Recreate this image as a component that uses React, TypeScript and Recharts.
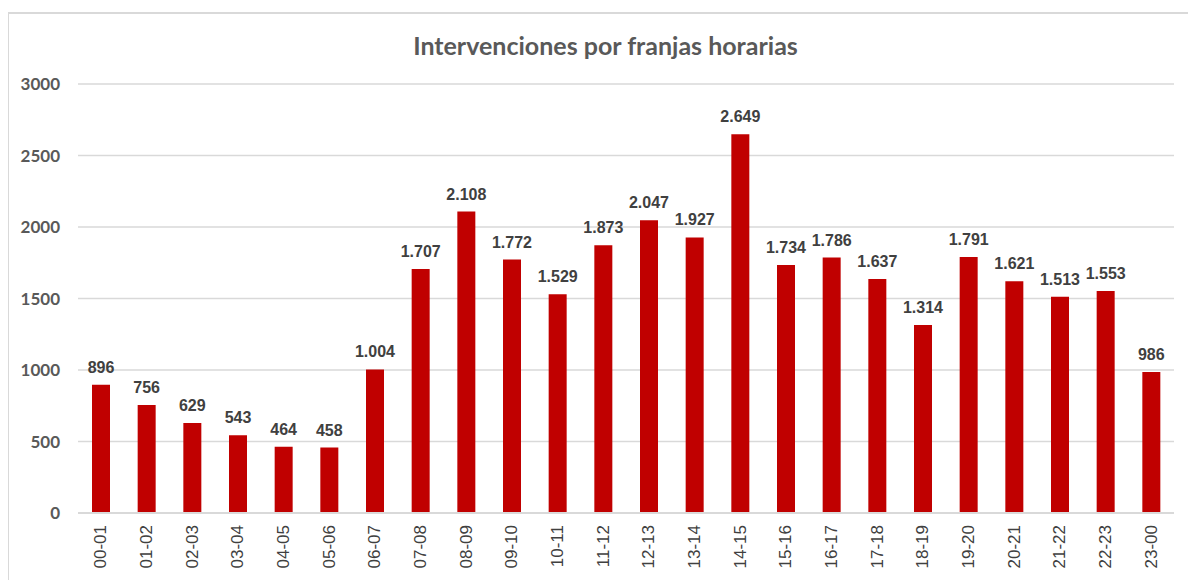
import { BarChart, Bar, XAxis, YAxis, CartesianGrid, LabelList } from "recharts";

const franjas = [
  "00-01", "01-02", "02-03", "03-04", "04-05", "05-06", "06-07", "07-08",
  "08-09", "09-10", "10-11", "11-12", "12-13", "13-14", "14-15", "15-16",
  "16-17", "17-18", "18-19", "19-20", "20-21", "21-22", "22-23", "23-00",
];

const intervenciones = [
  896, 756, 629, 543, 464, 458, 1004, 1707, 2108, 1772, 1529, 1873,
  2047, 1927, 2649, 1734, 1786, 1637, 1314, 1791, 1621, 1513, 1553, 986,
];

const yTicks = [0, 500, 1000, 1500, 2000, 2500, 3000];

const data = franjas.map((franja, i) => ({ franja, valor: intervenciones[i] }));

// separador de miles con punto (1.004, 2.649...)
const fmt = (v: number) => String(v).replace(/\B(?=(\d{3})+(?!\d))/g, ".");

function XTick(props: any) {
  const { x, y, payload } = props;
  return (
    <text
      transform={`translate(${x},${y + 4}) rotate(-90)`}
      textAnchor="end"
      dominantBaseline="central"
      fill="#404040"
      fontSize={17}
      fontFamily="'Liberation Sans', Arial, sans-serif"
    >
      {payload.value}
    </text>
  );
}

export default function App() {
  return (
    <div
      style={{
        position: "relative",
        marginLeft: -1,
        marginTop: 4,
        width: 1185,
        height: 572,
        border: "2px solid #d9d9d9",
        background: "#fff",
      }}
    >
      <div
        style={{
          position: "absolute",
          top: 16,
          left: 4,
          width: "100%",
          textAlign: "center",
          fontFamily: "Lato, 'Open Sans', sans-serif",
          fontWeight: 700,
          fontSize: 25,
          color: "#595959",
        }}
      >
        Intervenciones por franjas horarias
      </div>
      <BarChart
        width={1185}
        height={570}
        data={data}
        margin={{ top: 70, right: 20, bottom: 5, left: 9 }}
      >
        <CartesianGrid vertical={false} stroke="#d9d9d9" strokeWidth={1.5} />
        <XAxis
          dataKey="franja"
          interval={0}
          height={66}
          tick={<XTick />}
          tickLine={false}
          axisLine={{ stroke: "#d9d9d9", strokeWidth: 2 }}
        />
        <YAxis
          width={60}
          domain={[0, 3000]}
          ticks={yTicks}
          tickLine={false}
          axisLine={false}
          tickSize={0}
          tickMargin={18}
          tick={{
            fill: "#595959",
            fontSize: 17,
            fontWeight: 700,
            fontFamily: "Lato, 'Open Sans', sans-serif",
          }}
        />
        <Bar dataKey="valor" fill="#c00000" barSize={18} isAnimationActive={false}>
          <LabelList
            dataKey="valor"
            position="top"
            offset={12}
            formatter={(v: any) => fmt(Number(v))}
            fill="#404040"
            fontSize={16}
            fontWeight={700}
            fontFamily="'Liberation Sans', Arial, sans-serif"
          />
        </Bar>
      </BarChart>
    </div>
  );
}
